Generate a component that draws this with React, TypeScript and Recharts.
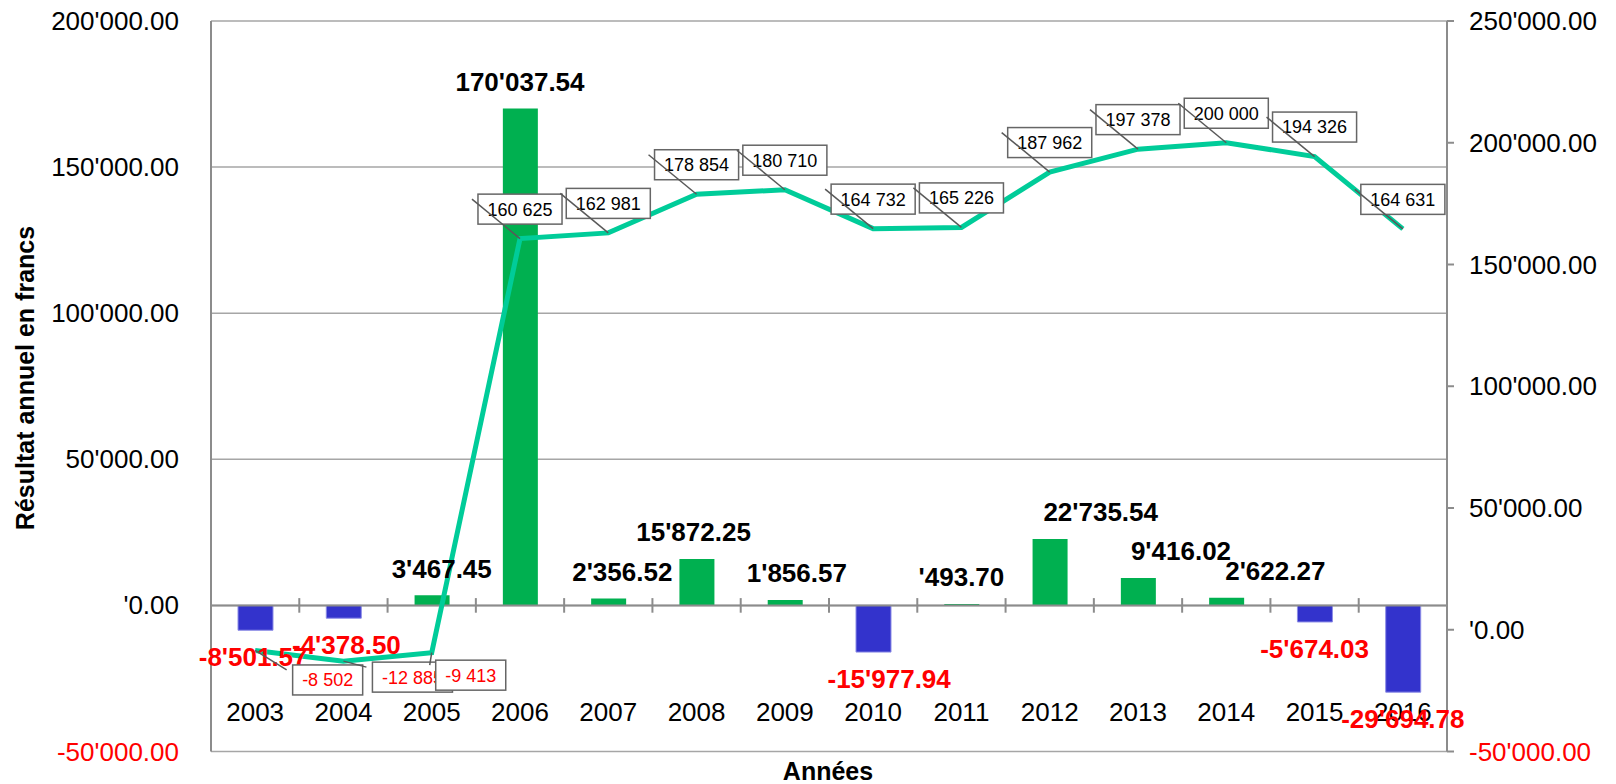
import React from 'react';
import { ComposedChart, Bar, Line, Cell, XAxis, YAxis, CartesianGrid, ReferenceLine, LabelList } from 'recharts';

const years = ['2003', '2004', '2005', '2006', '2007', '2008', '2009', '2010', '2011', '2012', '2013', '2014', '2015', '2016'];
const resultat = [-8501.57, -4378.5, 3467.45, 170037.54, 2356.52, 15872.25, 1856.57, -15977.94, 493.7, 22735.54, 9416.02, 2622.27, -5674.03, -29694.78];
const cumul = [-8502, -12885, -9413, 160625, 162981, 178854, 180710, 164732, 165226, 187962, 197378, 200000, 194326, 164631];
const leftTicks = [-50000, 0, 50000, 100000, 150000, 200000];
const rightTicks = [-50000, 0, 50000, 100000, 150000, 200000, 250000];

const data = years.map((year, i) => ({ year, resultat: resultat[i], cumul: cumul[i] }));

// label layout (horizontal nudges of bar labels, manual spots of the first boxes)
const barLabelDx = [-2, 3, 10, 0, 14, -3, 12, 16, 0, 51, 43, 49, 0, 0];
const boxSpot: Record<number, [number, number]> = { 0: [37.5, 14.5], 1: [29, 1], 2: [4, 7.5] };

const FONT = "'Liberation Sans', Arial, sans-serif";
const AXIS = '#8c8c8c';
const RED = '#ff0000';

const fmtFr = (v: number) => {
  const neg = v < 0;
  const [int, dec] = Math.abs(v).toFixed(2).split('.');
  let grouped = int.replace(/\B(?=(\d{3})+(?!\d))/g, "'");
  if (int.length <= 3) grouped = "'" + grouped;
  return (neg ? '-' : '') + grouped + '.' + dec;
};

const fmtSpace = (v: number) => {
  const neg = v < 0;
  const s = String(Math.round(Math.abs(v))).replace(/\B(?=(\d{3})+(?!\d))/g, ' ');
  return (neg ? '-' : '') + s;
};

const textW = (s: string, size: number) =>
  s.split('').reduce((w, c) => w + (c === ' ' ? 0.278 : c === '-' ? 0.333 : 0.556), 0) * size;

const LeftTick = (props: any) => {
  const { x, y, payload } = props;
  return (
    <text x={x} y={y + 9} textAnchor="end" fontFamily={FONT} fontSize={26} fill={payload.value < 0 ? RED : '#000'}>
      {fmtFr(payload.value)}
    </text>
  );
};

const RightTick = (props: any) => {
  const { x, y, payload } = props;
  return (
    <text x={x} y={y + 9} textAnchor="start" fontFamily={FONT} fontSize={26} fill={payload.value < 0 ? RED : '#000'}>
      {fmtFr(payload.value)}
    </text>
  );
};

const YearTick = (props: any) => {
  const { x, y, payload } = props;
  return (
    <text x={x} y={y - 31} textAnchor="middle" fontFamily={FONT} fontSize={26} fill="#000">
      {payload.value}
    </text>
  );
};

const BarLabel = (props: any) => {
  const { x, y, value, index } = props;
  if (x == null || y == null) return null;
  const neg = value < 0;
  return (
    <text
      x={x + barLabelDx[index]}
      y={neg ? y + 36 : y - 17.7}
      textAnchor="middle"
      fontFamily={FONT}
      fontWeight="bold"
      fontSize={26}
      fill={neg ? RED : '#000'}
    >
      {fmtFr(value)}
    </text>
  );
};

const BoxLabel = (props: any) => {
  const { x, y, value, index } = props;
  if (x == null || y == null) return null;
  const txt = fmtSpace(value);
  const w = textW(txt, 18) + 19;
  const h = 30;
  const spot = boxSpot[index];
  const left = spot ? x + spot[0] : x - w / 2;
  const top = spot ? y + spot[1] : y - 44.5;
  return (
    <g>
      <rect x={left} y={top} width={w} height={h} fill="#fff" stroke="#666" strokeWidth={1.5} />
      <text x={left + w / 2} y={top + h / 2 + 6.4} textAnchor="middle" fontFamily={FONT} fontSize={18} fill={value < 0 ? RED : '#000'}>
        {txt}
      </text>
      <line x1={left - 6} y1={top + 5} x2={x} y2={y} stroke="#595959" strokeWidth={1.5} />
    </g>
  );
};

export default function App() {
  return (
    <ComposedChart width={1600} height={776} data={data} margin={{ top: 13, right: 0, bottom: 0, left: 0 }}>
      <CartesianGrid yAxisId="left" vertical={false} stroke="#a6a6a6" strokeWidth={1.5} />
      <XAxis
        dataKey="year"
        height={32.5}
        axisLine={false}
        tickLine={false}
        tickSize={0}
        tickMargin={0}
        interval={0}
        tick={<YearTick />}
        label={{
          content: () => (
            <text x={820} y={772} textAnchor="middle" fontFamily={FONT} fontWeight="bold" fontSize={25} fill="#000">
              Années
            </text>
          ),
        }}
      />
      <YAxis
        yAxisId="left"
        width={203}
        domain={[-50000, 200000]}
        ticks={leftTicks}
        interval={0}
        axisLine={{ stroke: AXIS, strokeWidth: 2 }}
        tickLine={false}
        tickSize={0}
        tickMargin={32}
        tick={<LeftTick />}
        label={{
          content: () => (
            <text transform="translate(26,370) rotate(-90)" textAnchor="middle" fontFamily={FONT} fontWeight="bold" fontSize={25} fill="#000">
              Résultat annuel en francs
            </text>
          ),
        }}
      />
      <YAxis
        yAxisId="right"
        orientation="right"
        width={161}
        domain={[-50000, 250000]}
        ticks={rightTicks}
        interval={0}
        axisLine={{ stroke: AXIS, strokeWidth: 2 }}
        tickLine={{ stroke: AXIS, strokeWidth: 2 }}
        tickSize={7}
        tickMargin={15}
        tick={<RightTick />}
      />
      <Bar yAxisId="left" dataKey="resultat" barSize={35} isAnimationActive={false}>
        {resultat.map((v, i) => (
          <Cell key={i} fill={v < 0 ? '#3333cc' : '#00b050'} stroke={v < 0 ? '#8c8ce6' : 'none'} strokeWidth={1} />
        ))}
      </Bar>
      <ReferenceLine yAxisId="left" y={0} stroke={AXIS} strokeWidth={2} />
      {years.slice(1).map((yr) => (
        <ReferenceLine
          key={yr}
          yAxisId="left"
          segment={[{ x: yr, y: 2500 }, { x: yr, y: -2500 }]}
          position="start"
          stroke={AXIS}
          strokeWidth={2}
        />
      ))}
      <Line yAxisId="right" dataKey="cumul" type="linear" stroke="#00cc99" strokeWidth={5} dot={false} activeDot={false} isAnimationActive={false} />
      <Line yAxisId="left" dataKey="resultat" stroke="none" dot={false} activeDot={false} legendType="none" isAnimationActive={false}>
        <LabelList dataKey="resultat" content={BarLabel} />
      </Line>
      <Line yAxisId="right" dataKey="cumul" stroke="none" dot={false} activeDot={false} legendType="none" isAnimationActive={false}>
        <LabelList dataKey="cumul" content={BoxLabel} />
      </Line>
    </ComposedChart>
  );
}
